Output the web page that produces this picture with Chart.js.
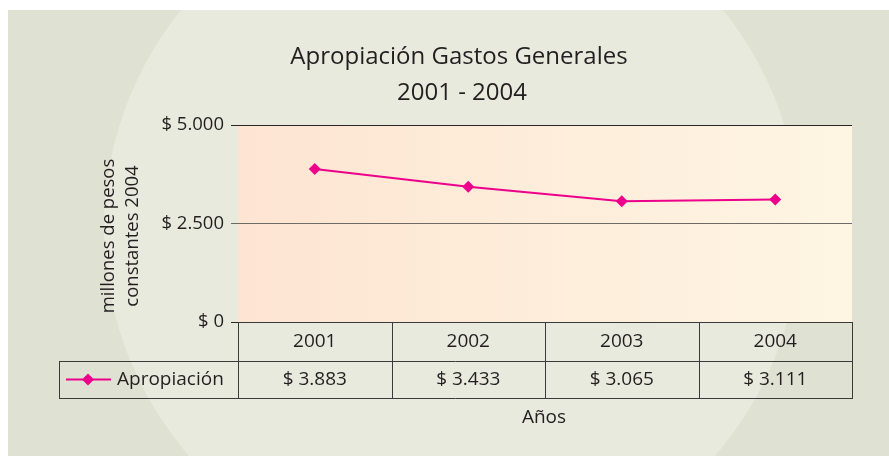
<!DOCTYPE html>
<html>
<head>
<meta charset="utf-8">
<script src="https://cdn.jsdelivr.net/npm/chart.js@4"></script>
<style>
  html, body { margin: 0; padding: 0; background: #fff; }
  #wrap { width: 889px; height: 456px; }
</style>
</head>
<body>
<div id="wrap"><canvas id="c" width="889" height="456"></canvas></div>
<script>
const years = ['2001', '2002', '2003', '2004'];
const apropiacion = [3883, 3433, 3065, 3111];
const seriesName = 'Apropiación';
const titleLines = ['Apropiación Gastos Generales', '2001 - 2004'];
const yTitleLines = ['millones de pesos', 'constantes 2004'];
const xTitle = 'Años';

const FONT = '"Open Sans", "Noto Sans", sans-serif';
const INK = '#231f20';
const PINK = '#ec008c';

// 5000 -> "$ 5.000"
const money = v => '$ ' + String(v).replace(/\B(?=(\d{3})+(?!\d))/g, '.');

const backdrop = {
  id: 'backdrop',
  beforeDraw(chart) {
    const { ctx, chartArea: a } = chart;
    const W = chart.width, H = chart.height;
    ctx.save();
    ctx.fillStyle = '#fff';
    ctx.fillRect(0, 0, W, H);
    ctx.fillStyle = '#dfe2d2';
    ctx.fillRect(8, 10, W - 8, H - 10);
    ctx.beginPath();
    ctx.rect(8, 10, W - 8, H - 10);
    ctx.clip();
    ctx.fillStyle = '#e7eadd';
    ctx.beginPath();
    ctx.arc(452, 228, 348, 0, Math.PI * 2);
    ctx.fill();
    ctx.restore();

    // plot area wash
    ctx.save();
    const pg = ctx.createLinearGradient(a.left, 0, a.right, 0);
    pg.addColorStop(0, '#fde5d2');
    pg.addColorStop(1, '#fef5e3');
    ctx.fillStyle = pg;
    ctx.fillRect(a.left, a.top, a.right - a.left, a.bottom - a.top);
    ctx.restore();
  }
};

const texts = {
  id: 'texts',
  afterDraw(chart) {
    const { ctx, chartArea: a } = chart;
    const x = chart.scales.x;
    ctx.save();
    ctx.fillStyle = INK;
    ctx.textAlign = 'center';
    ctx.textBaseline = 'middle';

    // title
    ctx.font = '24px ' + FONT;
    ctx.fillText(titleLines[0], 459, 57);
    ctx.fillText(titleLines[1], 462, 93);

    // y title
    ctx.save();
    ctx.font = '18.5px ' + FONT;
    ctx.translate(109, 236);
    ctx.rotate(-Math.PI / 2);
    ctx.fillText(yTitleLines[0], 0, 0);
    ctx.fillText(yTitleLines[1], 0, 24);
    ctx.restore();

    // data table
    const centers = years.map((_, i) => x.getPixelForValue(i));
    const edges = [a.left];
    for (let i = 1; i < centers.length; i++) edges.push((centers[i - 1] + centers[i]) / 2);
    edges.push(a.right);
    const r0 = a.bottom, r1 = a.bottom + 39, r2 = r1 + 37;
    const legL = 59;
    const px = v => Math.round(v) + 0.5;

    ctx.strokeStyle = '#3a3a3a';
    ctx.lineWidth = 1;
    ctx.beginPath();
    ctx.moveTo(a.left, px(r0)); ctx.lineTo(a.right, px(r0));
    ctx.moveTo(legL, px(r1)); ctx.lineTo(a.right, px(r1));
    ctx.moveTo(legL, px(r2)); ctx.lineTo(a.right, px(r2));
    edges.forEach(e => { ctx.moveTo(px(e), r0); ctx.lineTo(px(e), r2 + 1); });
    ctx.moveTo(px(legL), r1); ctx.lineTo(px(legL), r2 + 1);
    ctx.stroke();

    ctx.font = '19px ' + FONT;
    years.forEach((y, i) => ctx.fillText(y, centers[i], (r0 + r1) / 2));
    apropiacion.forEach((v, i) => ctx.fillText(money(v), centers[i], (r1 + r2) / 2));

    // legend key
    const ly = (r1 + r2) / 2;
    ctx.strokeStyle = PINK;
    ctx.lineWidth = 2;
    ctx.beginPath();
    ctx.moveTo(66, ly); ctx.lineTo(111, ly);
    ctx.stroke();
    ctx.fillStyle = PINK;
    ctx.beginPath();
    ctx.moveTo(88, ly - 6); ctx.lineTo(94, ly); ctx.lineTo(88, ly + 6); ctx.lineTo(82, ly);
    ctx.closePath();
    ctx.fill();
    ctx.fillStyle = INK;
    ctx.textAlign = 'left';
    ctx.fillText(seriesName, 117, ly);

    // x title
    ctx.textAlign = 'center';
    ctx.fillText(xTitle, 544, 418);
    ctx.restore();
  }
};

new Chart(document.getElementById('c'), {
  type: 'line',
  data: {
    labels: years,
    datasets: [{
      label: seriesName,
      data: apropiacion,
      borderColor: PINK,
      backgroundColor: PINK,
      borderWidth: 2,
      pointStyle: 'rectRot',
      pointRadius: 6,
      pointBorderWidth: 0,
      tension: 0
    }]
  },
  options: {
    responsive: false,
    animation: false,
    devicePixelRatio: 1,
    layout: { padding: { top: 125, bottom: 134, left: 0, right: 37 } },
    plugins: {
      legend: { display: false },
      title: { display: false },
      tooltip: { enabled: false }
    },
    scales: {
      x: { display: false, offset: true },
      y: {
        min: 0,
        max: 5000,
        afterFit(scale) { scale.width = 238; },
        border: { display: false },
        grid: {
          tickLength: 7,
          color: c => (c.tick && c.tick.value === 2500 ? '#6e6a66' : '#2a2626'),
          lineWidth: 1
        },
        ticks: {
          stepSize: 2500,
          padding: 7,
          color: INK,
          font: { family: FONT, size: 18.5 },
          callback: v => money(v)
        }
      }
    }
  },
  plugins: [backdrop, texts]
});
</script>
</body>
</html>
